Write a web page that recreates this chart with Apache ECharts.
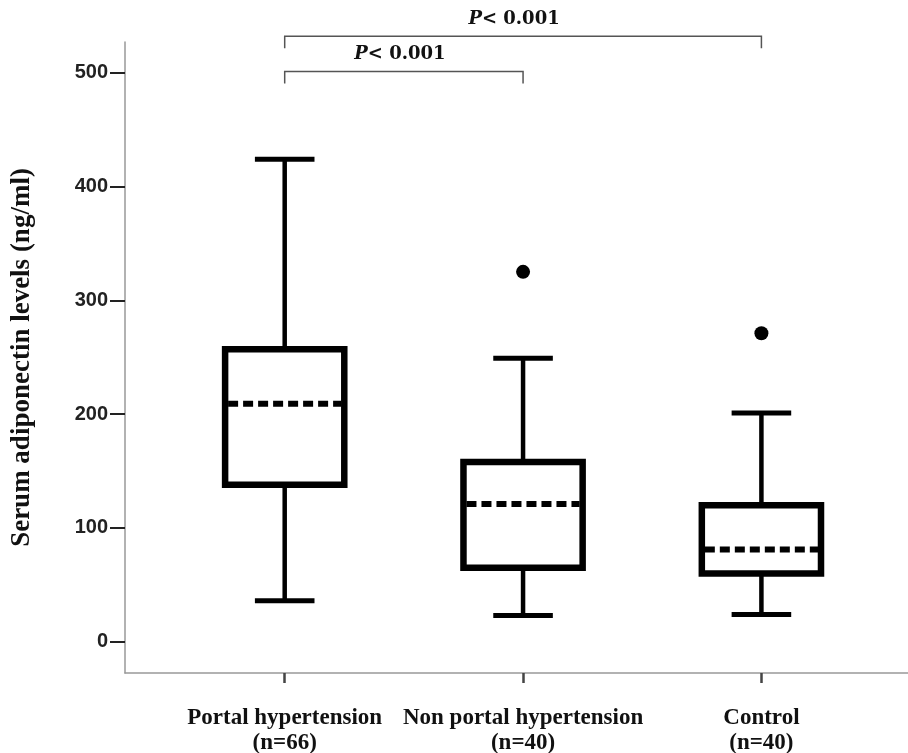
<!DOCTYPE html>
<html>
<head>
<meta charset="utf-8">
<title>Serum adiponectin levels</title>
<script src="https://cdn.jsdelivr.net/npm/echarts@6/dist/echarts.min.js"></script>
<style>
  html, body { margin: 0; padding: 0; background: #fff; }
  #chart { width: 908px; height: 753px; }
</style>
</head>
<body>
<div id="chart"></div>
<script>
// groups and their box plot summary values (ng/ml)
const groups = ['Portal hypertension', 'Non portal hypertension', 'Control'];
const groupSizes = [66, 40, 40];
const whiskerLow = [36, 23, 24];
const q1 = [138, 65, 60];
const median = [209, 121, 81];
const q3 = [257, 158, 120];
const whiskerHigh = [424, 249, 201];
// outliers: [group index, value]
const outliers = [[1, 325], [2, 271]];
const yTicks = [0, 100, 200, 300, 400, 500];
// significance brackets: [from group, to group, text after the italic P]
const comparisons = [[0, 1, '< 0.001'], [0, 2, '< 0.001']];

const BOX_W = 0.5; // box width in category units

const boxData = groups.map((g, i) => [i, whiskerLow[i], q1[i], median[i], q3[i], whiskerHigh[i]]);

function renderBox(params, api) {
  const x = api.value(0);
  const lo = api.coord([x, api.value(1)]);
  const b1 = api.coord([x, api.value(2)]);
  const md = api.coord([x, api.value(3)]);
  const b3 = api.coord([x, api.value(4)]);
  const hi = api.coord([x, api.value(5)]);
  const half = api.size([BOX_W, 0])[0] / 2;
  const cap = half / 2;
  const cx = lo[0];
  const stem = { stroke: '#000', lineWidth: 4.5 };
  return {
    type: 'group',
    children: [
      { type: 'line', shape: { x1: cx, y1: lo[1], x2: cx, y2: b1[1] }, style: stem },
      { type: 'line', shape: { x1: cx, y1: hi[1], x2: cx, y2: b3[1] }, style: stem },
      { type: 'line', shape: { x1: cx - cap, y1: lo[1], x2: cx + cap, y2: lo[1] }, style: { stroke: '#000', lineWidth: 5 } },
      { type: 'line', shape: { x1: cx - cap, y1: hi[1], x2: cx + cap, y2: hi[1] }, style: { stroke: '#000', lineWidth: 5 } },
      {
        type: 'rect',
        shape: { x: cx - half, y: b3[1], width: half * 2, height: b1[1] - b3[1] },
        style: { fill: '#fff', stroke: '#000', lineWidth: 6.5 }
      },
      {
        type: 'line',
        shape: { x1: cx - half + 3, y1: md[1], x2: cx + half - 3, y2: md[1] },
        style: { stroke: '#000', lineWidth: 6, lineDash: [10, 5] }
      }
    ]
  };
}

function renderBracket(params, api) {
  const a = api.value(0);
  const b = api.value(1);
  const level = 501 + params.dataIndex * 31;
  const p1 = api.coord([a, level]);
  const p2 = api.coord([b, level]);
  const drop = 12;
  const st = { stroke: '#555', lineWidth: 1.5, fill: 'none' };
  return {
    type: 'group',
    children: [
      {
        type: 'polyline',
        shape: { points: [[p1[0], p1[1] + drop], [p1[0], p1[1]], [p2[0], p2[1]], [p2[0], p2[1] + drop]] },
        style: st
      },
      {
        type: 'text',
        x: (p1[0] + p2[0]) / 2 - 4 - params.dataIndex * 5,
        y: p1[1] - 8,
        style: {
          text: '{i|P}' + comparisons[params.dataIndex][2],
          rich: { i: { fontStyle: 'italic', fontFamily: 'DejaVu Serif', fontWeight: 'bold', fontSize: 18, fill: '#111' } },
          fontFamily: 'DejaVu Serif',
          fontWeight: 'bold',
          fontSize: 18,
          fill: '#111',
          align: 'center',
          verticalAlign: 'bottom'
        }
      }
    ]
  };
}

const chart = echarts.init(document.getElementById('chart'));

const option = {
  backgroundColor: '#fff',
  animation: false,
  grid: { left: 125, right: 0, top: 42, bottom: 80, outerBoundsMode: 'none' },
  xAxis: {
    type: 'value',
    min: -0.67,
    max: 2.615,
    splitLine: { show: false },
    axisLine: { show: true, onZero: false, lineStyle: { color: '#999', width: 1.5 } },
    axisTick: { show: true, customValues: [0, 1, 2], length: 10, lineStyle: { color: '#444', width: 2.5 } },
    axisLabel: {
      customValues: [0, 1, 2],
      margin: 33,
      formatter: v => groups[Math.round(v)] + '\n(n=' + groupSizes[Math.round(v)] + ')',
      fontFamily: 'Liberation Serif',
      fontWeight: 'bold',
      fontSize: 23,
      lineHeight: 25,
      color: '#111'
    }
  },
  yAxis: {
    type: 'value',
    min: -27.5,
    max: 527,
    name: 'Serum adiponectin levels (ng/ml)',
    nameLocation: 'middle',
    nameGap: 89,
    nameTextStyle: { fontFamily: 'Liberation Serif', fontWeight: 'bold', fontSize: 27, color: '#111' },
    splitLine: { show: false },
    axisLine: { show: true, onZero: false, lineStyle: { color: '#999', width: 1.5 } },
    axisTick: { show: true, customValues: yTicks, length: 15, lineStyle: { color: '#222', width: 2 } },
    axisLabel: {
      customValues: yTicks,
      margin: 17,
      fontFamily: 'Liberation Sans',
      fontWeight: 'bold',
      fontSize: 20,
      color: '#222'
    }
  },
  series: [
    {
      type: 'custom',
      renderItem: renderBox,
      data: boxData,
      encode: { x: 0, y: [1, 2, 3, 4, 5] }
    },
    {
      type: 'scatter',
      data: outliers,
      symbol: 'circle',
      symbolSize: 14,
      itemStyle: { color: '#000', opacity: 1 }
    },
    {
      type: 'custom',
      renderItem: renderBracket,
      clip: false,
      data: comparisons.map(c => [c[0], c[1]]),
      encode: { x: [0, 1] }
    }
  ]
};

chart.setOption(option);
window.addEventListener('resize', () => chart.resize());
</script>
</body>
</html>
